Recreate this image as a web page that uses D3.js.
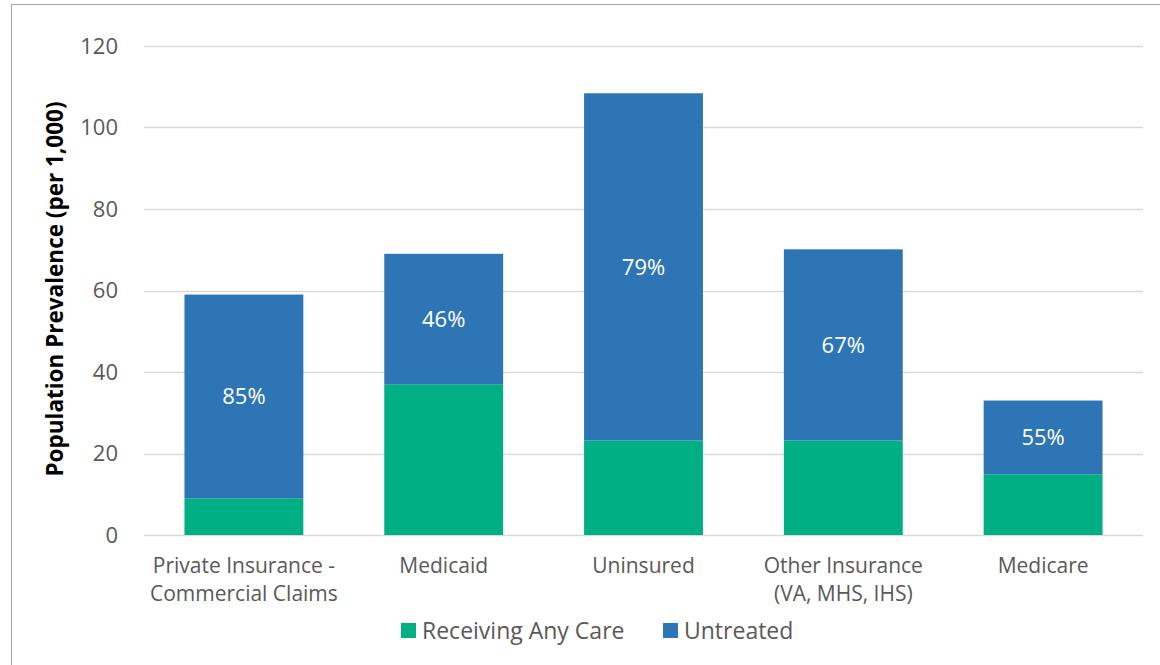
<!DOCTYPE html>
<html>
<head>
<meta charset="utf-8">
<script src="https://cdn.jsdelivr.net/npm/d3@7"></script>
<style>
  body { margin: 0; background: #fff; }
  text { font-family: "Open Sans", sans-serif; }
</style>
</head>
<body>
<script>
'use strict';

// chart data
const categories = [
  ["Private Insurance -", "Commercial Claims"],
  ["Medicaid"],
  ["Uninsured"],
  ["Other Insurance", "(VA, MHS, IHS)"],
  ["Medicare"]
];
const receivingCare = [9, 37, 23.2, 23.2, 14.9];
const untreated = [50, 32, 85.2, 46.9, 18.1];
const pctLabels = ["85%", "46%", "79%", "67%", "55%"];
const yTicks = [0, 20, 40, 60, 80, 100, 120];
const seriesNames = ["Receiving Any Care", "Untreated"];
const seriesColors = ["#00b084", "#2e75b6"];

(function () {
  const width = 1160, height = 665;
  const svg = d3.select('body').append('svg')
    .attr('width', width)
    .attr('height', height);

  // outer chart frame (only left and top edges show in the picture)
  svg.append('rect')
    .attr('x', 11.5).attr('y', 4.5)
    .attr('width', 1160).attr('height', 700)
    .attr('fill', 'none')
    .attr('stroke', '#a6a6a6')
    .attr('stroke-width', 1);

  const plot = { left: 144, right: 1143, top: 46, bottom: 535 };

  const idx = categories.map((d, i) => i);
  const xScale = d3.scaleBand()
    .domain(idx)
    .range([plot.left, plot.right])
    .paddingInner(0.405)
    .paddingOuter(0.2025);

  const yScale = d3.scaleLinear()
    .domain([0, 120])
    .range([plot.bottom, plot.top]);

  // gridlines
  svg.append('g')
    .selectAll('line')
    .data(yTicks)
    .enter()
    .append('line')
    .attr('x1', plot.left)
    .attr('x2', plot.right)
    .attr('y1', d => Math.round(yScale(d)) + 0.5)
    .attr('y2', d => Math.round(yScale(d)) + 0.5)
    .attr('stroke', '#d9d9d9')
    .attr('stroke-width', 1.5);

  // y axis labels
  const yAxis = d3.axisLeft(yScale).tickValues(yTicks).tickSize(0).tickPadding(0);
  const yg = svg.append('g')
    .attr('transform', 'translate(118, 0)')
    .call(yAxis);
  yg.select('.domain').remove();
  yg.selectAll('text')
    .style('font-size', '22px')
    .attr('fill', '#595959')
    .attr('font-family', '"Open Sans", sans-serif');

  // stacked bars
  const rows = idx.map(i => ({ i: i, care: receivingCare[i], untreated: untreated[i] }));
  const stack = d3.stack().keys(['care', 'untreated']);
  const layers = stack(rows);

  svg.append('g')
    .selectAll('g')
    .data(layers)
    .enter()
    .append('g')
    .attr('fill', (d, k) => seriesColors[k])
    .selectAll('rect')
    .data(d => d)
    .enter()
    .append('rect')
    .attr('x', d => xScale(d.data.i))
    .attr('width', xScale.bandwidth())
    .attr('y', d => yScale(d[1]))
    .attr('height', d => yScale(d[0]) - yScale(d[1]));

  // percent labels in the middle of the untreated segment
  svg.append('g')
    .selectAll('text')
    .data(layers[1])
    .enter()
    .append('text')
    .attr('x', d => xScale(d.data.i) + xScale.bandwidth() / 2)
    .attr('y', d => yScale((d[0] + d[1]) / 2))
    .attr('dy', '0.35em')
    .attr('text-anchor', 'middle')
    .attr('fill', '#ffffff')
    .style('font-size', '22px')
    .text((d, i) => pctLabels[i]);

  // category labels
  const cat = svg.append('g')
    .selectAll('text')
    .data(categories)
    .enter()
    .append('text')
    .attr('x', (d, i) => xScale(i) + xScale.bandwidth() / 2)
    .attr('y', 573)
    .attr('text-anchor', 'middle')
    .attr('fill', '#595959')
    .style('font-size', '21px');
  cat.selectAll('tspan')
    .data(d => d)
    .enter()
    .append('tspan')
    .attr('x', function () { return this.parentNode.getAttribute('x'); })
    .attr('dy', (d, j) => j === 0 ? 0 : 28)
    .text(d => d);

  // y axis title
  svg.append('text')
    .attr('transform', 'translate(63, 289) rotate(-90)')
    .attr('text-anchor', 'middle')
    .attr('fill', '#000000')
    .style('font-size', '22.5px')
    .style('font-weight', 'bold')
    .text('Population Prevalence (per 1,000)');

  // legend
  const legendX = [401, 663];
  const leg = svg.append('g')
    .selectAll('g')
    .data(seriesNames)
    .enter()
    .append('g')
    .attr('transform', (d, i) => 'translate(' + legendX[i] + ', 631)');
  leg.append('rect')
    .attr('x', 0).attr('y', -8)
    .attr('width', 15).attr('height', 15)
    .attr('fill', (d, i) => seriesColors[i]);
  leg.append('text')
    .attr('x', 21)
    .attr('dy', '0.35em')
    .attr('fill', '#595959')
    .style('font-size', '23px')
    .text(d => d);
})();
</script>
</body>
</html>
